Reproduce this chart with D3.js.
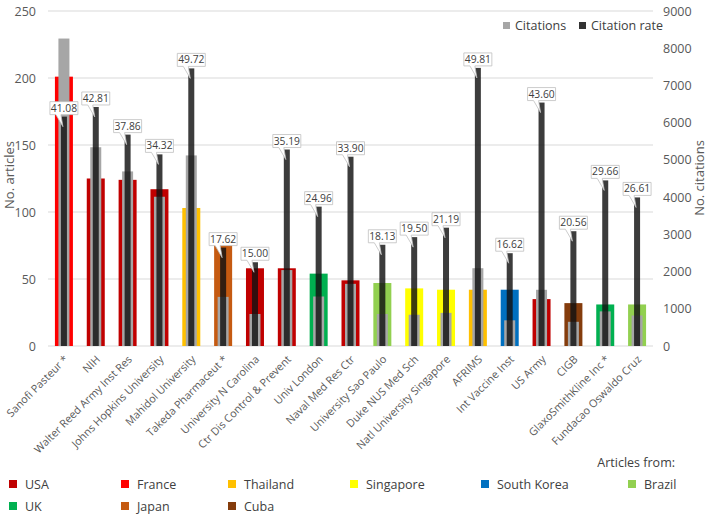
<!DOCTYPE html>
<html>
<head>
<meta charset="utf-8">
<script src="https://cdn.jsdelivr.net/npm/d3@7"></script>
<style>
  body { margin: 0; background: #fff; }
  svg { font-family: "Open Sans", sans-serif; }
</style>
</head>
<body>
<svg width="709" height="516"></svg>
<script>
// institutions, left to right
const institutions = ["Sanofi Pasteur *", "NIH", "Walter Reed Army Inst Res", "Johns Hopkins University",
  "Mahidol University", "Takeda Pharmaceut *", "University N Carolina", "Ctr Dis Control & Prevent",
  "Univ London", "Naval Med Res Ctr", "University Sao Paulo", "Duke NUS  Med Sch",
  "Natl University Singapore", "AFRIMS", "Int Vaccine Inst", "US Army", "CIGB",
  "GlaxoSmithKline Inc *", "Fundacao Oswaldo Cruz"];
const countryOf = ["France", "USA", "USA", "USA", "Thailand", "Japan", "USA", "USA", "UK", "USA",
  "Brazil", "Singapore", "Singapore", "Thailand", "South Korea", "USA", "Cuba", "UK", "Brazil"];
const articles = [201, 125, 124, 117, 103, 75, 58, 58, 54, 49, 47, 43, 42, 42, 42, 35, 32, 31, 31];
const citations = [8260, 5340, 4690, 4010, 5120, 1320, 860, 2040, 1330, 1670, 860, 840, 890, 2090, 690, 1510, 650, 930, 820];
const citationRate = [41.08, 42.81, 37.86, 34.32, 49.72, 17.62, 15.00, 35.19, 24.96, 33.90, 18.13, 19.50,
  21.19, 49.81, 16.62, 43.60, 20.56, 29.66, 26.61];

const articleTicks = [0, 50, 100, 150, 200, 250];
const citationTicks = [0, 1000, 2000, 3000, 4000, 5000, 6000, 7000, 8000, 9000];

const countries = ["USA", "France", "Thailand", "Singapore", "South Korea", "Brazil", "UK", "Japan", "Cuba"];
const countryColors = ["#c00000", "#ff0000", "#ffc000", "#ffff00", "#0070c0", "#92d050", "#00b050", "#c55a11", "#843c0c"];

const svg = d3.select("svg");
const plotL = 48, plotR = 653, plotT = 11, plotB = 346;

const x = d3.scaleBand().domain(institutions).range([plotL, plotR]);
const yA = d3.scaleLinear().domain([0, 250]).range([plotB, plotT]);
const yC = d3.scaleLinear().domain([0, 9000]).range([plotB, plotT]);
const yR = d3.scaleLinear().domain([0, 60]).range([plotB, plotT]); // hidden rate axis
const color = d3.scaleOrdinal().domain(countries).range(countryColors);

const rows = institutions.map((name, i) => ({
  name, country: countryOf[i], articles: articles[i], citations: citations[i], rate: citationRate[i]
}));
const cx = d => x(d.name) + x.bandwidth() / 2;

// gridlines
svg.append("g").selectAll("line")
  .data(articleTicks)
  .join("line")
  .attr("x1", plotL).attr("x2", plotR)
  .attr("y1", d => yA(d)).attr("y2", d => yA(d))
  .attr("stroke", "#d9d9d9").attr("stroke-width", 1);

// left axis
const axL = svg.append("g").attr("transform", `translate(${plotL - 12},0)`)
  .call(d3.axisLeft(yA).tickValues(articleTicks).tickSize(0).tickPadding(0));
axL.select(".domain").remove();
axL.selectAll("text").attr("font-size", 12.5).attr("fill", "#595959").attr("font-family", "Open Sans");

// right axis
const axR = svg.append("g").attr("transform", `translate(${plotR + 10},0)`)
  .call(d3.axisRight(yC).tickValues(citationTicks).tickFormat(d3.format("d")).tickSize(0).tickPadding(0));
axR.select(".domain").remove();
axR.selectAll("text").attr("font-size", 12.5).attr("fill", "#595959").attr("font-family", "Open Sans");

// axis titles
svg.append("text").attr("transform", "translate(14,175) rotate(-90)")
  .attr("text-anchor", "middle").attr("font-size", 13).attr("fill", "#595959").text("No. articles");
svg.append("text").attr("transform", "translate(704,178) rotate(-90)")
  .attr("text-anchor", "middle").attr("font-size", 13).attr("fill", "#595959").text("No. citations");

// article bars (country colour)
svg.append("g").selectAll("rect")
  .data(rows)
  .join("rect")
  .attr("x", d => cx(d) - 9).attr("width", 18)
  .attr("y", d => yA(d.articles)).attr("height", d => plotB - yA(d.articles))
  .attr("fill", d => color(d.country));

// citations bars
svg.append("g").selectAll("rect")
  .data(rows)
  .join("rect")
  .attr("x", d => cx(d) - 5.5).attr("width", 11)
  .attr("y", d => yC(d.citations)).attr("height", d => plotB - yC(d.citations))
  .attr("fill", "#a6a6a6");

// citation rate bars
svg.append("g").selectAll("rect")
  .data(rows)
  .join("rect")
  .attr("x", d => cx(d) - 3).attr("width", 6)
  .attr("y", d => yR(d.rate)).attr("height", d => plotB - yR(d.rate))
  .attr("fill", "#111").attr("fill-opacity", 0.82);

// callouts
const call = svg.append("g").selectAll("g")
  .data(rows)
  .join("g")
  .attr("transform", d => `translate(${cx(d)},${yR(d.rate)})`);

call.append("path")
  .attr("d", "M-14,-15 H14 V-2 H-3 L-1,10 L-8,-2 H-14 Z")
  .attr("fill", "#fff").attr("stroke", "#bfbfbf").attr("stroke-width", 0.8);

call.append("text")
  .attr("x", 0).attr("y", -5)
  .attr("text-anchor", "middle")
  .attr("font-size", 10.3)
  .attr("fill", "#404040")
  .text(d => d.rate.toFixed(2));

// x labels
svg.append("g").selectAll("text")
  .data(rows)
  .join("text")
  .attr("transform", d => `translate(${cx(d) + 5},${plotB + 14}) rotate(-45)`)
  .attr("text-anchor", "end")
  .attr("font-size", 10.8)
  .attr("fill", "#595959")
  .text(d => d.name);

// top legend
const topLegend = [["Citations", "#a6a6a6"], ["Citation rate", "#333"]];
const tl = svg.append("g").selectAll("g")
  .data(topLegend)
  .join("g")
  .attr("transform", (d, i) => `translate(${[503, 579][i]},22)`);
tl.append("rect").attr("width", 7).attr("height", 7).attr("fill", d => d[1]);
tl.append("text").attr("x", 12).attr("y", 8).attr("font-size", 12.5).attr("fill", "#404040").text(d => d[0]);

// bottom legend
svg.append("text").attr("x", 675).attr("y", 467).attr("text-anchor", "end")
  .attr("font-size", 12.5).attr("fill", "#404040").text("Articles from:");

const legX = [9, 121, 228, 350, 481, 628];
const bl = svg.append("g").selectAll("g")
  .data(countries)
  .join("g")
  .attr("transform", (d, i) => `translate(${legX[i % 6]},${i < 6 ? 480 : 502})`);
bl.append("rect").attr("width", 8).attr("height", 8).attr("fill", d => color(d));
bl.append("text").attr("x", 16).attr("y", 9).attr("font-size", 12.5).attr("fill", "#404040").text(d => d);
</script>
</body>
</html>
